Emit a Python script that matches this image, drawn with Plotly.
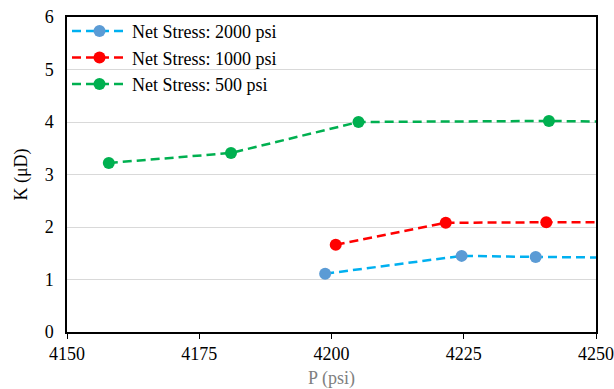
import plotly.graph_objects as go

# Data
series_names = ["Net Stress: 2000 psi", "Net Stress: 1000 psi", "Net Stress: 500 psi"]
p_2000 = [4198.8, 4224.6, 4238.6]
k_2000 = [1.11, 1.45, 1.43]
p_1000 = [4200.8, 4221.6, 4240.6]
k_1000 = [1.66, 2.08, 2.09]
p_500 = [4157.9, 4181.0, 4205.1, 4241.1]
k_500 = [3.22, 3.41, 4.00, 4.02]
# dashed lines continue to the right edge of the axis
line_end_p = 4250
line_end_k = [1.42, 2.09, 4.01]

line_colors = ["#00B0F0", "#FF0000", "#00B050"]
marker_colors = ["#5B9BD5", "#FF0000", "#00B050"]

xs = [p_2000, p_1000, p_500]
ys = [k_2000, k_1000, k_500]

DASH = "9px,5px"
fig = go.Figure()
for i in range(3):
    fig.add_trace(go.Scatter(
        x=xs[i] + [line_end_p], y=ys[i] + [line_end_k[i]],
        mode="lines", line=dict(color=line_colors[i], width=2.5, dash=DASH),
        showlegend=False, hoverinfo="skip"))
    fig.add_trace(go.Scatter(
        x=xs[i], y=ys[i], mode="markers",
        marker=dict(color=marker_colors[i], size=12),
        showlegend=False, name=series_names[i]))
    fig.add_trace(go.Scatter(
        x=[None], y=[None], mode="lines+markers", name=series_names[i],
        line=dict(color=line_colors[i], width=2.5, dash=DASH),
        marker=dict(color=marker_colors[i], size=12)))

serif = "Liberation Serif"
fig.update_layout(
    width=614, height=389,
    margin=dict(l=67, r=18, t=17, b=57, autoexpand=False),
    paper_bgcolor="white", plot_bgcolor="white",
    font=dict(family=serif, size=18, color="black"),
    showlegend=True,
    legend=dict(x=0.0, y=1.013, xanchor="left", yanchor="top",
                bgcolor="rgba(0,0,0,0)", font=dict(family=serif, size=18, color="black"),
                itemwidth=55, tracegroupgap=0),
    xaxis=dict(range=[4150, 4250], tickvals=[4150, 4175, 4200, 4225, 4250],
               automargin=False, ticklabeloverflow="allow",
               showgrid=False, zeroline=False, showline=True, linecolor="black",
               linewidth=1.5, mirror=True, ticks="outside", ticklen=5,
               tickcolor="black", tickfont=dict(family=serif, size=18, color="black"),
               title=dict(text="P (psi)", font=dict(family=serif, size=18, color="#808080"),
                          standoff=10)),
    yaxis=dict(range=[0, 6], tickvals=[0, 1, 2, 3, 4, 5, 6], automargin=False,
               ticklabeloverflow="allow",
               showgrid=True, gridcolor="#D9D9D9", gridwidth=1, zeroline=False,
               showline=True, linecolor="black", linewidth=1.5, mirror=True,
               ticks="", ticklabelstandoff=8,
               tickfont=dict(family=serif, size=18, color="black"),
               title=dict(text="K (μD)", font=dict(family=serif, size=18, color="black"),
                          standoff=12)),
)

fig.write_html("out.html")
